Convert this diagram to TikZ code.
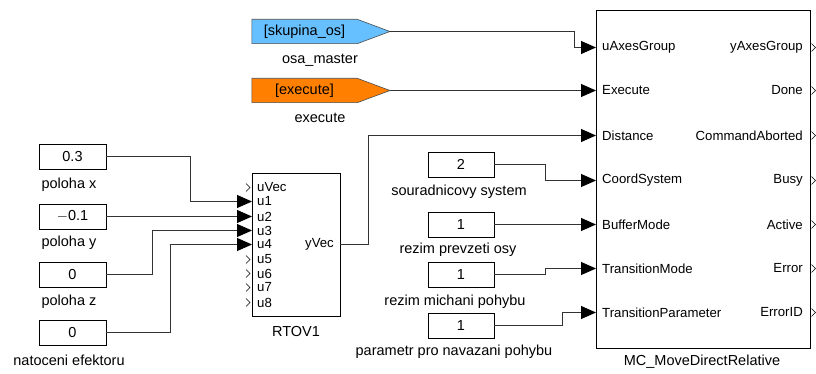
\documentclass[tikz,border=0pt]{standalone}
\usepackage{fontspec}
\setmainfont{Liberation Sans}
\usetikzlibrary{arrows.meta,backgrounds,calc}
\definecolor{tagblue}{HTML}{66BFFF}
\definecolor{tagorange}{HTML}{FF8000}
\begin{document}
\begin{tikzpicture}[x=1pt,y=-1pt,
  font=\fontsize{14.5}{16}\selectfont,
  constbox/.style={draw=black, line width=0.8pt, minimum width=67pt, minimum height=25pt, inner sep=0pt},
  blockbox/.style={draw=black, line width=0.8pt, inner sep=0pt},
  lbl/.style={inner sep=0pt},
  port/.style={font=\fontsize{13.2}{15}\selectfont, inner sep=0pt},
  wire/.style={draw=black!80, line width=0.9pt},
  arr/.style={wire, -{Triangle[length=15pt,width=13pt,color=black]}},
  chev/.style={draw=black, line width=0.6pt},
  tagtext/.style={inner sep=0pt, minimum width=105pt, minimum height=24pt},
  tagshape/.style={draw=black!70, line width=0.6pt}
]
\useasboundingbox (0,0) rectangle (816,374);

% ---------- left constants ----------
\node[constbox] (c1) at (72.5,156.5) {0.3};
\node[lbl] (l1) at (69,185) {poloha x};
\node[constbox] (c2) at (72.5,216.5) {$-$0.1};
\node[lbl] (l2) at (69,243) {poloha y};
\node[constbox] (c3) at (72.5,274.5) {0};
\node[lbl] (l3) at (69,302) {poloha z};
\node[constbox] (c4) at (72.5,332.5) {0};
\node[lbl] (l4) at (69,360) {natoceni efektoru};

% ---------- RTOV block ----------
\node[blockbox, minimum width=88pt, minimum height=143pt] (rtov) at (296,244.5) {};
\node[lbl] (rtovlbl) at (296,332) {RTOV1};
\foreach \i/\t/\y in {1/uVec/187.5,2/u1/201.5,3/u2/216.5,4/u3/230.5,5/u4/244.5,6/u5/259.5,7/u6/273.5,8/u7/287.5,9/u8/302.5} {
  \coordinate (r\i) at (252,\y);
  \node[port, anchor=west] (rl\i) at (257,\y) {\t};
}
\coordinate (ry) at (340,244.5);
\node[port, anchor=east] (ryl) at (334,244.5) {yVec};
\foreach \i in {1,6,7,8,9} {
  \draw[chev] ($(r\i)+(-6,-4)$) -- ($(r\i)+(-2,0)$) -- ($(r\i)+(-6,4)$);
}

% ---------- goto tags ----------
\node[tagtext] (g1) at (304.5,31.5) {[skupina\_os]};
\coordinate (g1tip) at (390,31.5);
\node[lbl] (g1l) at (320,60) {osa\_master};
\node[tagtext] (g2) at (304.5,90.5) {[execute]};
\coordinate (g2tip) at (390,90.5);
\node[lbl] (g2l) at (320,118) {execute};
\begin{scope}[on background layer]
  \filldraw[tagshape, fill=tagblue] (g1.north west) -- (g1.north east) -- (g1tip) -- (g1.south east) -- (g1.south west) -- cycle;
  \filldraw[tagshape, fill=tagorange] (g2.north west) -- (g2.north east) -- (g2tip) -- (g2.south east) -- (g2.south west) -- cycle;
\end{scope}

% ---------- middle constants ----------
\node[constbox, minimum width=66pt] (k1) at (461,164.5) {2};
\node[lbl] (kl1) at (459,192) {souradnicovy system};
\node[constbox, minimum width=66pt] (k2) at (461,224.5) {1};
\node[lbl] (kl2) at (458,250) {rezim prevzeti osy};
\node[constbox, minimum width=66pt] (k3) at (461,274.5) {1};
\node[lbl] (kl3) at (455,302) {rezim michani pohybu};
\node[constbox, minimum width=66pt] (k4) at (461,325.5) {1};
\node[lbl] (kl4) at (454,352) {parametr pro navazani pohybu};

% ---------- MC block ----------
\node[blockbox, minimum width=214pt, minimum height=338pt] (mc) at (703,179) {};
\node[lbl] (mclbl) at (702,362) {MC\_MoveDirectRelative};
\foreach \i/\a/\b/\y in {1/uAxesGroup/yAxesGroup/47.5,2/Execute/Done/90.5,3/Distance/CommandAborted/135.5,4/CoordSystem/Busy/180.5,5/BufferMode/Active/224.5,6/TransitionMode/Error/268.5,7/TransitionParameter/ErrorID/312.5} {
  \coordinate (m\i) at (596,\y);
  \coordinate (o\i) at (810,\y);
  \node[port, anchor=west] (ml\i) at (602,\y) {\a};
  \node[port, anchor=east] (ol\i) at (803,\y) {\b};
  \draw[chev] ($(o\i)+(1.5,-4)$) -- ($(o\i)+(5.5,0)$) -- ($(o\i)+(1.5,4)$);
}

% ---------- connectors ----------
\draw[arr] (c1.east) -- (190.5,156.5) |- (r2);
\draw[arr] (c2.east) -- (r3);
\draw[arr] (c3.east) -- (152.5,274.5) |- (r4);
\draw[arr] (c4.east) -- (170.5,332.5) |- (r5);
\draw[arr] (ry) -- (368.5,244.5) |- (m3);
\draw[arr] (g1tip) -- (574.5,31.5) |- (m1);
\draw[arr] (g2tip) -- (m2);
\draw[arr] (k1.east) -- (545.5,164.5) |- (m4);
\draw[arr] (k2.east) -- (m5);
\draw[arr] (k3.east) -- (545.5,274.5) |- (m6);
\draw[arr] (k4.east) -- (562.5,325.5) |- (m7);
\end{tikzpicture}
\end{document}
